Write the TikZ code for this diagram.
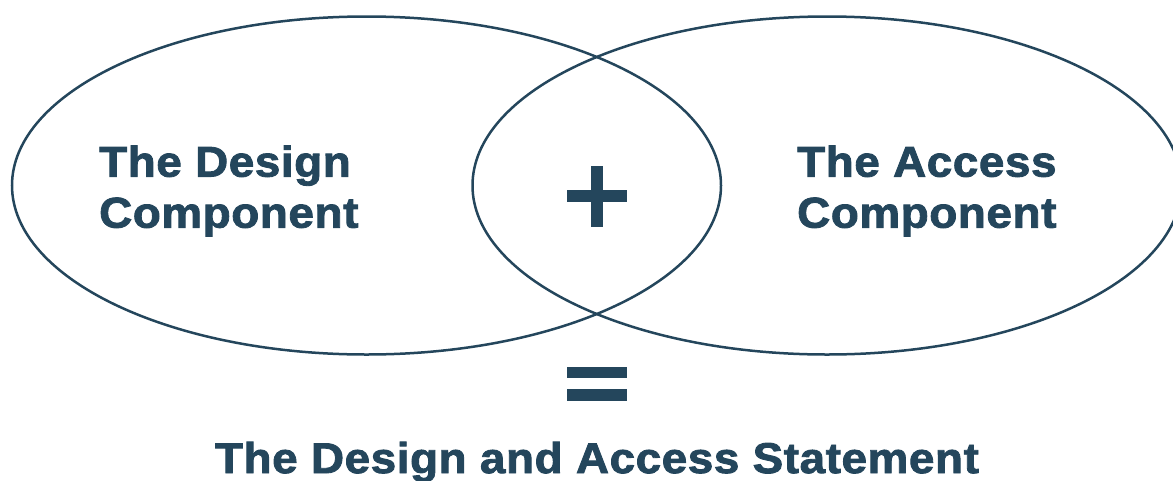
\documentclass[tikz,border=0pt]{standalone}
\usepackage{fontspec}
\setmainfont{Liberation Sans}
\newfontfamily\heavy[FakeStretch=1.065,FakeBold=2,LetterSpace=1.4,BoldFont={Liberation Sans Bold}]{Liberation Sans}
\definecolor{navy}{HTML}{24465C}
\usetikzlibrary{shapes.geometric}
\tikzset{
  venn/.style={draw=navy,line width=2.5pt,ellipse,minimum width=709pt,minimum height=338pt,inner sep=0pt},
  lab/.style={text=navy,font=\fontsize{43}{51}\selectfont\heavy\bfseries,align=left,inner sep=0pt,anchor=west},
  bar/.style={fill=navy,draw=none}
}
\begin{document}
\begin{tikzpicture}[x=1pt,y=-1pt]
\useasboundingbox (0,0) rectangle (1173,480);
\node[venn] (left) at (366.5,185.5) {};
\node[venn] (right) at (827,185.5) {};
\node[lab] (design) at (99,191) {The Design\\Component};
\node[lab] (access) at (797,191) {The Access\\Component};
\fill[bar] (566.5,190) rectangle (627,202);
\fill[bar] (591,165.5) rectangle (603,226.5);
\fill[bar] (567,367) rectangle (627,378);
\fill[bar] (567,389) rectangle (627,401);
\node[text=navy,font=\fontsize{43}{51}\selectfont\heavy\bfseries,inner sep=0pt] (stmt) at (597,462) {The Design and Access Statement};
\end{tikzpicture}
\end{document}
